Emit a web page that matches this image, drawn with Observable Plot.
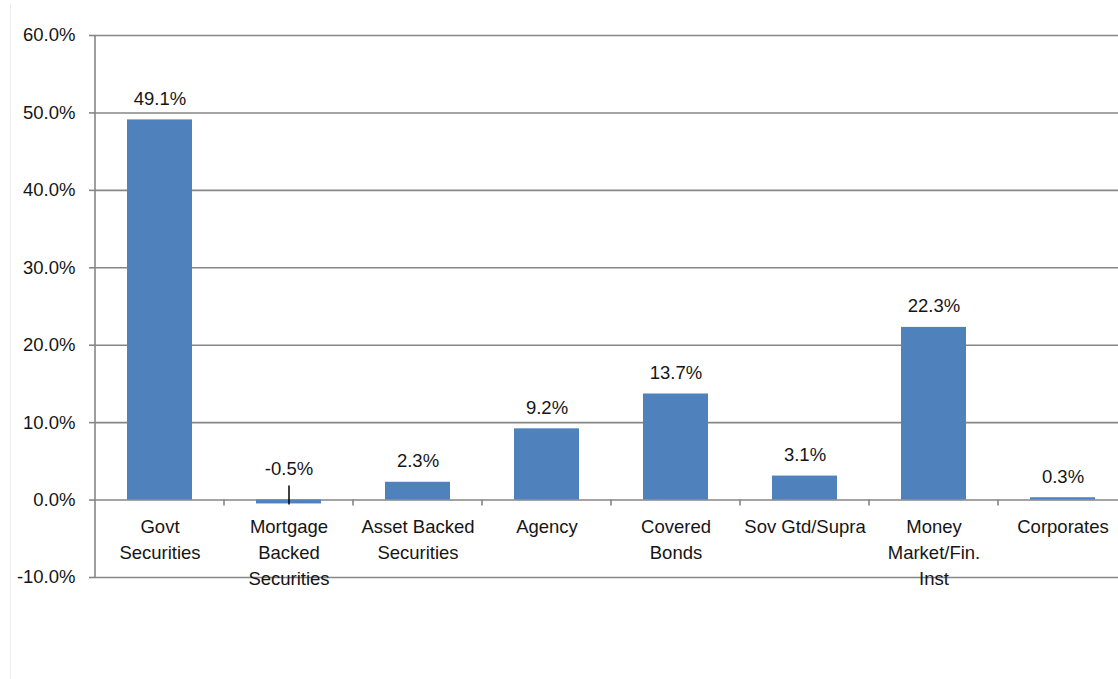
<!DOCTYPE html>
<html><head><meta charset="utf-8">
<script src="https://cdn.jsdelivr.net/npm/d3@7"></script>
<script src="https://cdn.jsdelivr.net/npm/@observablehq/plot@0.6"></script>
<style>
html,body{margin:0;padding:0;background:#fff;overflow:hidden;width:1118px;height:679px}
#wrap{position:relative;width:1118px;height:679px;overflow:hidden}
#edge{position:absolute;left:10px;top:4px;bottom:0;border-left:1px solid #ececec}
#wrap svg{position:absolute;left:0;top:0;max-width:none !important;width:1130px !important;height:679px !important}
</style></head><body><div id="wrap"><div id="edge"></div></div>
<script>
const categories = ["Govt Securities", "Mortgage Backed Securities", "Asset Backed Securities", "Agency", "Covered Bonds", "Sov Gtd/Supra", "Money Market/Fin. Inst", "Corporates"];
const categoryLabels = ["Govt\nSecurities", "Mortgage\nBacked\nSecurities", "Asset Backed\nSecurities", "Agency", "Covered\nBonds", "Sov Gtd/Supra", "Money\nMarket/Fin.\nInst", "Corporates"];
const values = [49.1, -0.5, 2.3, 9.2, 13.7, 3.1, 22.3, 0.3];
const yTicks = [-10, 0, 10, 20, 30, 40, 50, 60];

const data = categories.map((c, i) => ({category: c, label: categoryLabels[i], value: values[i]}));
const pos = data.filter(d => d.value >= 0);
const neg = data.filter(d => d.value < 0);
const fmt = v => v.toFixed(1) + "%";
const grid = "#868686";
const ink = "#151515";
const fs = 18.5;

function decor(index, scales, vals, dimensions) {
  const {marginLeft} = dimensions;
  const step = scales.x(categories[1]) - scales.x(categories[0]);
  const y0 = scales.y(0);
  const g = d3.create("svg:g").attr("stroke", grid).attr("stroke-width", 1.6);
  g.append("line").attr("x1", marginLeft).attr("x2", marginLeft)
    .attr("y1", scales.y(yTicks[yTicks.length - 1])).attr("y2", scales.y(yTicks[0]));
  for (let k = 1; k <= categories.length; k++) {
    const xx = marginLeft + k * step;
    g.append("line").attr("x1", xx).attr("x2", xx).attr("y1", y0).attr("y2", y0 + 6);
  }
  return g.node();
}

const chart = Plot.plot({
  width: 1130,
  height: 679,
  marginLeft: 95,
  marginRight: 3,
  marginTop: 35,
  marginBottom: 102,
  style: {fontFamily: "'Liberation Sans', Arial, sans-serif", fontSize: fs + "px", color: ink, background: "transparent"},
  x: {domain: categories, paddingInner: 0.5, paddingOuter: 0.25, axis: null},
  y: {domain: [-10, 60], axis: null},
  marks: [
    Plot.ruleY(yTicks, {stroke: grid, strokeWidth: 1.6}),
    Plot.barY(data, {x: "category", y: "value", fill: "#4f81bd"}),
    decor,
    Plot.axisY({ticks: yTicks, tickFormat: fmt, label: null, tickSize: 6, tickPadding: 14, stroke: grid, strokeWidth: 1.6, strokeOpacity: 1, fontSize: fs, fill: ink}),
    Plot.text(data, {x: "category", y: () => 0, text: "label", lineAnchor: "top", dy: 14, lineHeight: 1.42, fontSize: fs, fill: ink}),
    Plot.text(pos, {x: "category", y: "value", text: d => fmt(d.value), dy: -21, fontSize: fs, fill: ink}),
    Plot.text(neg, {x: "category", y: () => 0, text: d => fmt(d.value), dy: -31, fontSize: fs, fill: ink}),
    Plot.ruleX(neg, {x: "category", y1: () => 0, y2: "value", stroke: "#000", strokeWidth: 1.5, insetTop: -14, insetBottom: -1})
  ]
});
document.getElementById("wrap").appendChild(chart);
</script>
</body></html>
